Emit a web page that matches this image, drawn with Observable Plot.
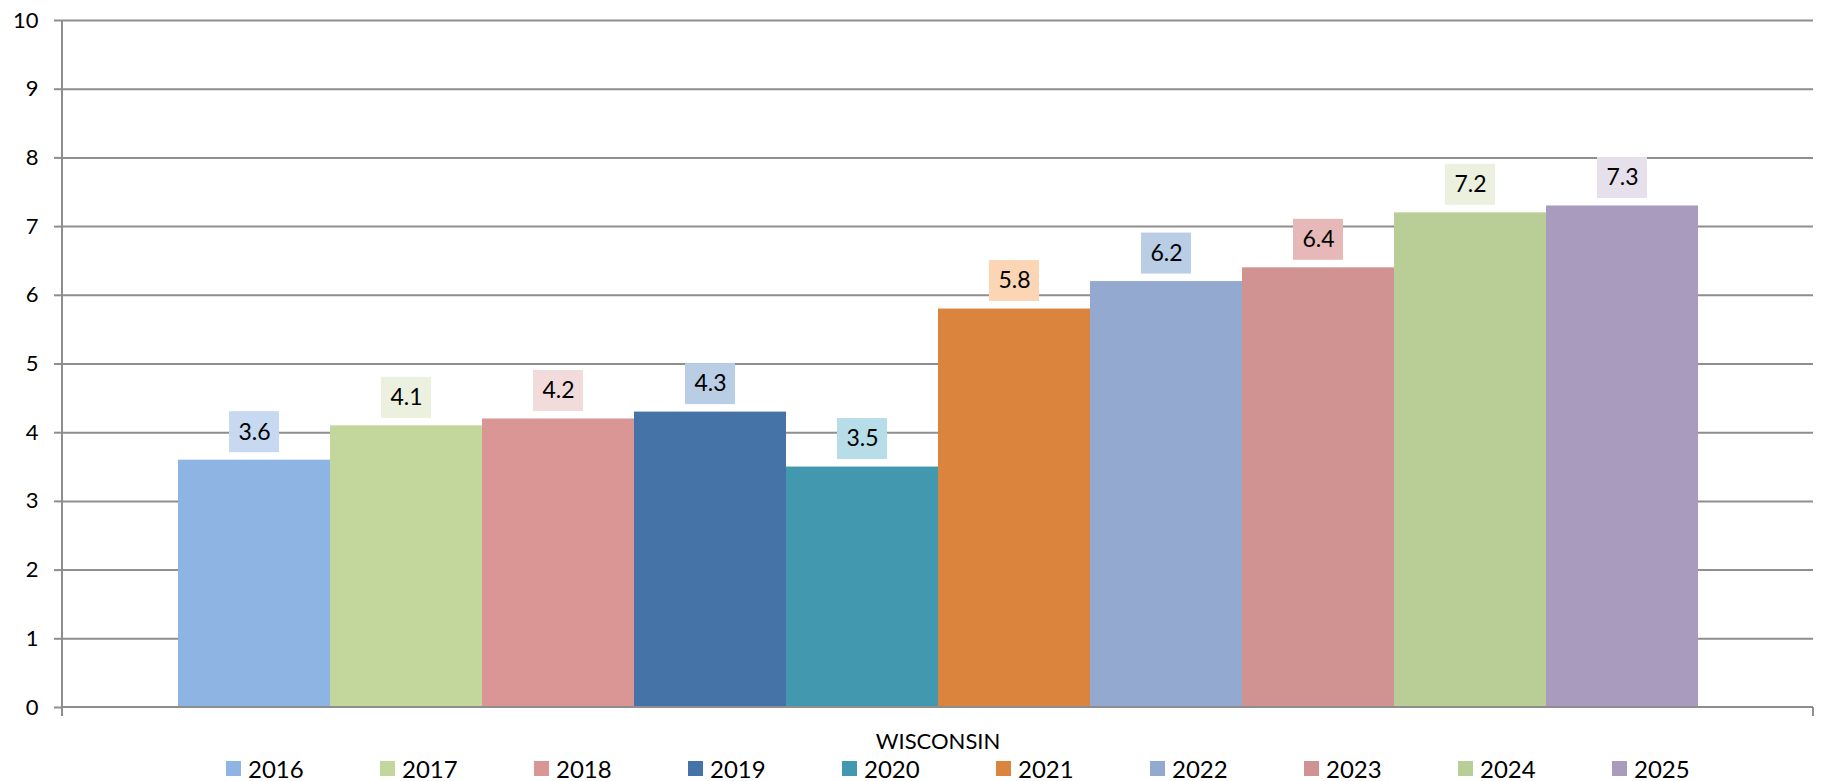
<!DOCTYPE html>
<html>
<head>
<meta charset="utf-8">
<script src="https://cdn.jsdelivr.net/npm/d3@7"></script>
<script src="https://cdn.jsdelivr.net/npm/@observablehq/plot@0.6"></script>
<style>
  html, body { margin: 0; padding: 0; background: #fff; overflow: hidden; }
  #chart svg { display: block; }
  .legend { display: flex; align-items: center; height: 25px; padding-left: 226px; font-family: Lato, sans-serif; font-size: 24px; line-height: 25px; color: #000; }
  .legend .item { width: 154px; display: flex; align-items: center; flex: 0 0 154px; }
  .legend .sw { width: 15px; height: 15px; margin-right: 7px; flex: 0 0 15px; }
</style>
</head>
<body>
<div id="chart"></div>
<script>
const category = "WISCONSIN";
const years = ["2016","2017","2018","2019","2020","2021","2022","2023","2024","2025"];
const values = [3.6, 4.1, 4.2, 4.3, 3.5, 5.8, 6.2, 6.4, 7.2, 7.3];
const barColors = ["#8EB4E3","#C3D69B","#D99694","#4572A7","#4198AF","#DB843D","#93A9CF","#D19392","#B9CD96","#A99BBD"];
const labelColors = ["#C6D9F1","#EBF1DE","#F2DCDB","#B9CDE5","#B7DEE8","#FCD5B5","#B9CDE5","#E6B9B8","#EBF1DE","#E6E0EC"];
const yTicks = [0,1,2,3,4,5,6,7,8,9,10];

const data = years.map((y, i) => ({year: y, value: values[i], bar: barColors[i], label: labelColors[i]}));
const gridColor = "#8E8E8E";
const font = "Lato, sans-serif";

const frameMark = (index, scales, values, dim) => {
  const g = d3.create("svg:g").attr("stroke", gridColor).attr("stroke-width", 2).attr("fill", "none");
  const x0 = dim.marginLeft, x1 = dim.width - dim.marginRight;
  const yT = dim.marginTop, yB = dim.height - dim.marginBottom;
  g.append("line").attr("x1", x0).attr("x2", x0).attr("y1", yT).attr("y2", yB + 9);
  g.append("line").attr("x1", x0).attr("x2", x1).attr("y1", yB).attr("y2", yB);
  g.append("line").attr("x1", x1).attr("x2", x1).attr("y1", yB).attr("y2", yB + 9);
  return g.node();
};

const chart = Plot.plot({
  width: 1826,
  height: 756,
  marginLeft: 62,
  marginRight: 13,
  marginTop: 20,
  marginBottom: 49,
  style: {fontFamily: font, fontSize: "22px", color: "#000", background: "#fff"},
  x: {domain: years, paddingInner: 0, paddingOuter: 0.756, axis: null},
  y: {domain: [0, 10]},
  marks: [
    Plot.gridY(yTicks.filter(t => t > 0), {stroke: gridColor, strokeOpacity: 1, strokeWidth: 2}),
    Plot.axisY(yTicks, {tickSize: 8, tickPadding: 16, tickFormat: d => String(d), stroke: gridColor, strokeWidth: 2, strokeOpacity: 1, label: null, fontSize: 22, fill: "#000"}),
    Plot.barY(data, {x: "year", y: "value", fill: "bar"}),
    frameMark,
    Plot.barY(data, {x: "year", y1: "value", y2: "value", fill: "label", insetTop: -48.5, insetBottom: 7.5, insetLeft: 51, insetRight: 51}),
    Plot.text(data, {x: "year", y: "value", text: d => d.value.toFixed(1), dy: -28, fill: "#000", fontSize: 23, lineAnchor: "middle"}),
    Plot.text([category], {frameAnchor: "bottom", text: d => d, dy: 34, lineAnchor: "middle", fontSize: 22, fill: "#000"})
  ]
});
document.getElementById("chart").appendChild(chart);

const legend = document.createElement("div");
legend.className = "legend";
years.forEach((y, i) => {
  const item = document.createElement("div");
  item.className = "item";
  const sw = document.createElement("span");
  sw.className = "sw";
  sw.style.background = barColors[i];
  const t = document.createElement("span");
  t.textContent = y;
  item.appendChild(sw);
  item.appendChild(t);
  legend.appendChild(item);
});
document.body.appendChild(legend);
</script>
</body>
</html>
